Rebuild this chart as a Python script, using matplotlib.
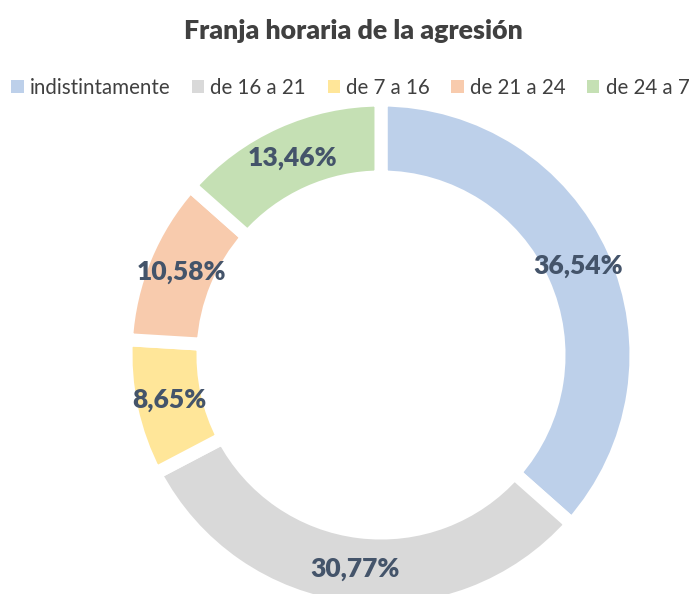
import matplotlib.pyplot as plt
from matplotlib.patches import Patch

# datos del gráfico
franjas = ['indistintamente', 'de 16 a 21', 'de 7 a 16', 'de 21 a 24', 'de 24 a 7']
porcentajes = [36.54, 30.77, 8.65, 10.58, 13.46]
colores = ['#BDD0EA', '#D9D9D9', '#FFE699', '#F8CBAD', '#C5E0B4']

plt.rcParams['font.family'] = ['Lato', 'DejaVu Sans']

fig = plt.figure(figsize=(6.95, 5.94), dpi=100)
ax = fig.add_axes([0, 0, 1, 1])

# anillo (coordenadas en píxeles, eje y invertido)
wedges, textos = ax.pie(
    porcentajes, colors=colores, startangle=-90, counterclock=True,
    center=(381, 355), radius=255, frame=True,
    wedgeprops=dict(width=77, edgecolor='white', linewidth=9.4),
    labels=[f'{v:.2f}%'.replace('.', ',') for v in porcentajes],
    labeldistance=216 / 255,
    textprops=dict(color='#44546A', fontsize=19, fontweight='heavy',
                   ha='center', va='center'))
ax.set_xlim(0, 695)
ax.set_ylim(594, 0)
ax.set_aspect('equal')
ax.axis('off')

fig.text(0.508, 0.948, 'Franja horaria de la agresión', ha='center', va='center',
         fontsize=19.3, fontweight='heavy', color='#404040')

handles = [Patch(facecolor=c, edgecolor='none') for c in colores]
fig.legend(handles, franjas, loc='center', bbox_to_anchor=(0.504, 0.852), ncol=5,
           frameon=False, fontsize=14.8, labelcolor='#404040',
           handlelength=0.6, handleheight=0.6, handletextpad=0.3, columnspacing=1.05)

fig.savefig('out.png', dpi=100)
